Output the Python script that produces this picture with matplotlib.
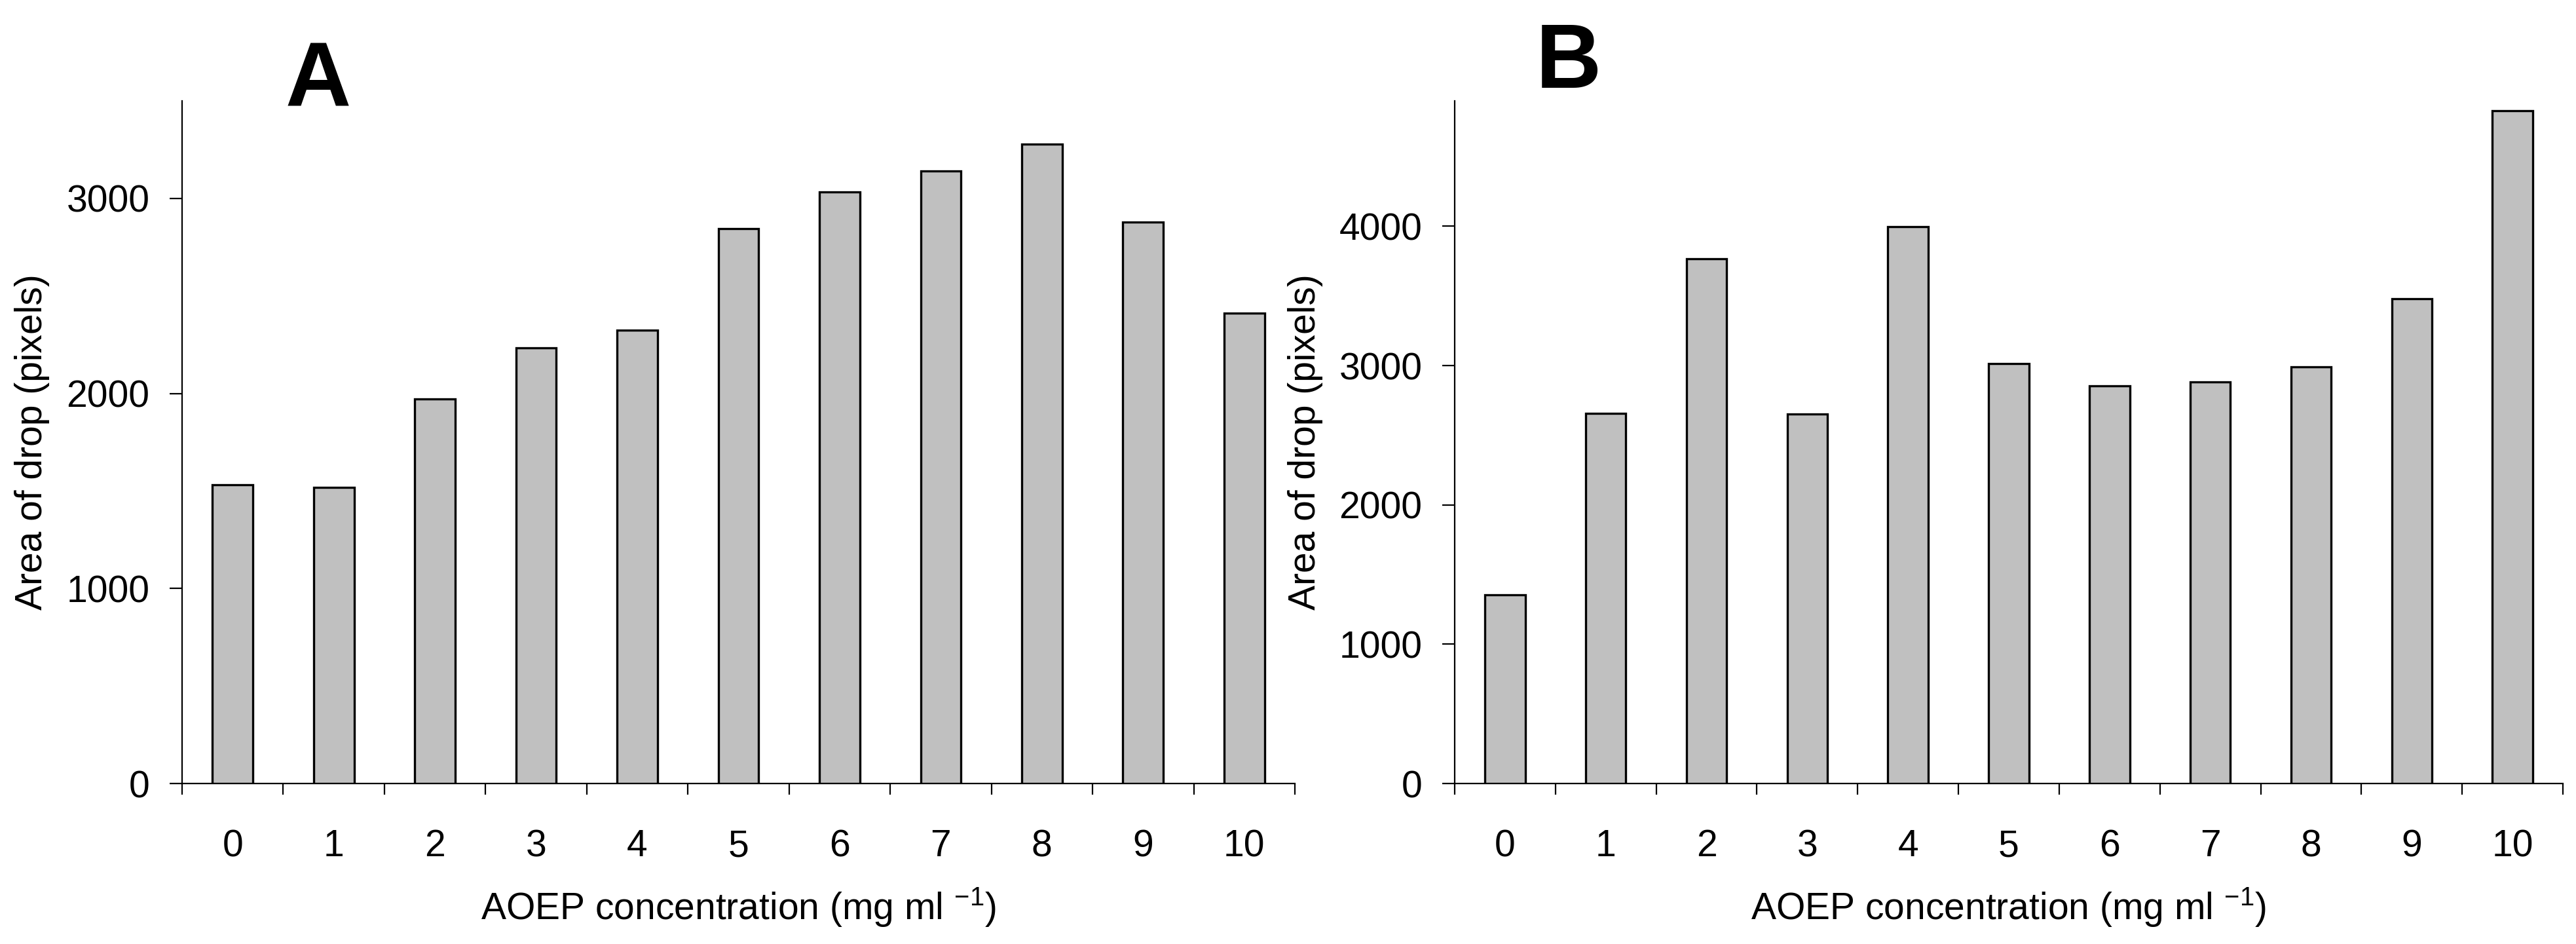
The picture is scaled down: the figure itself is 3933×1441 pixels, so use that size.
import matplotlib
matplotlib.use("Agg")
import matplotlib.pyplot as plt
import numpy as np

# ---- data ----
categories = ["0", "1", "2", "3", "4", "5", "6", "7", "8", "9", "10"]
area_A = [1530, 1519, 1973, 2233, 2323, 2846, 3032, 3140, 3279, 2877, 2413]
area_B = [1356, 2656, 3766, 2652, 3996, 3015, 2855, 2881, 2993, 3481, 4831]
yticks_A = [0, 1000, 2000, 3000]
yticks_B = [0, 1000, 2000, 3000, 4000]
ymax_A = 3500
ymax_B = 4900
panel_labels = ["A", "B"]
xlabel_text = r"AOEP concentration (mg ml $^{-1}$)"
ylabel_text = "Area of drop (pixels)"

plt.rcParams["font.family"] = ["Liberation Sans", "DejaVu Sans"]
plt.rcParams["mathtext.fontset"] = "custom"
plt.rcParams["mathtext.rm"] = "Liberation Sans"
plt.rcParams["mathtext.it"] = "Liberation Sans"
plt.rcParams["mathtext.default"] = "regular"

W, H, DPI = 3933, 1441, 200
fig = plt.figure(figsize=(W / DPI, H / DPI), dpi=DPI)

axes_rects = [
    [278 / W, (H - 1196) / H, 1699 / W, 1042 / H],
    [2221 / W, (H - 1196) / H, 1692 / W, 1042 / H],
]
datasets = [area_A, area_B]
yticks_list = [yticks_A, yticks_B]
ymax_list = [ymax_A, ymax_B]
title_pos = [(0.122, 0.9914), (0.103, 1.0192)]

fs = 20.5
for rect, vals, yt, ymax, lab, tp in zip(axes_rects, datasets, yticks_list,
                                         ymax_list, panel_labels, title_pos):
    ax = fig.add_axes(rect)
    x = np.arange(len(categories))
    ax.bar(x, vals, width=0.4, color="#c0c0c0", edgecolor="black",
           linewidth=1.2, zorder=3)
    ax.set_xlim(-0.5, len(categories) - 0.5)
    ax.set_ylim(0, ymax)
    for s in ["top", "right"]:
        ax.spines[s].set_visible(False)
    for s in ["left", "bottom"]:
        ax.spines[s].set_linewidth(0.8)
    ax.set_yticks(yt)
    ax.set_yticklabels([str(v) for v in yt], fontsize=fs)
    ax.tick_params(axis="y", length=7, width=0.8, pad=10.8, direction="out")
    ax.set_xticks(x)
    ax.set_xticklabels(categories, fontsize=fs)
    ax.set_xticks(np.arange(-0.5, len(categories), 1.0), minor=True)
    ax.tick_params(axis="x", which="major", length=0, pad=25)
    ax.tick_params(axis="x", which="minor", length=6, width=0.8,
                   direction="out")
    ax.set_xlabel(xlabel_text, fontsize=fs, va="top")
    ax.xaxis.set_label_coords(0.5, -0.150)
    ax.set_ylabel(ylabel_text, fontsize=fs)
    ax.yaxis.set_label_coords(-0.119, 0.5)
    ax.text(tp[0], tp[1], lab, transform=ax.transAxes, fontsize=50,
            fontweight="bold", ha="center", va="baseline")

fig.savefig("out.png", dpi=DPI, facecolor="white")
